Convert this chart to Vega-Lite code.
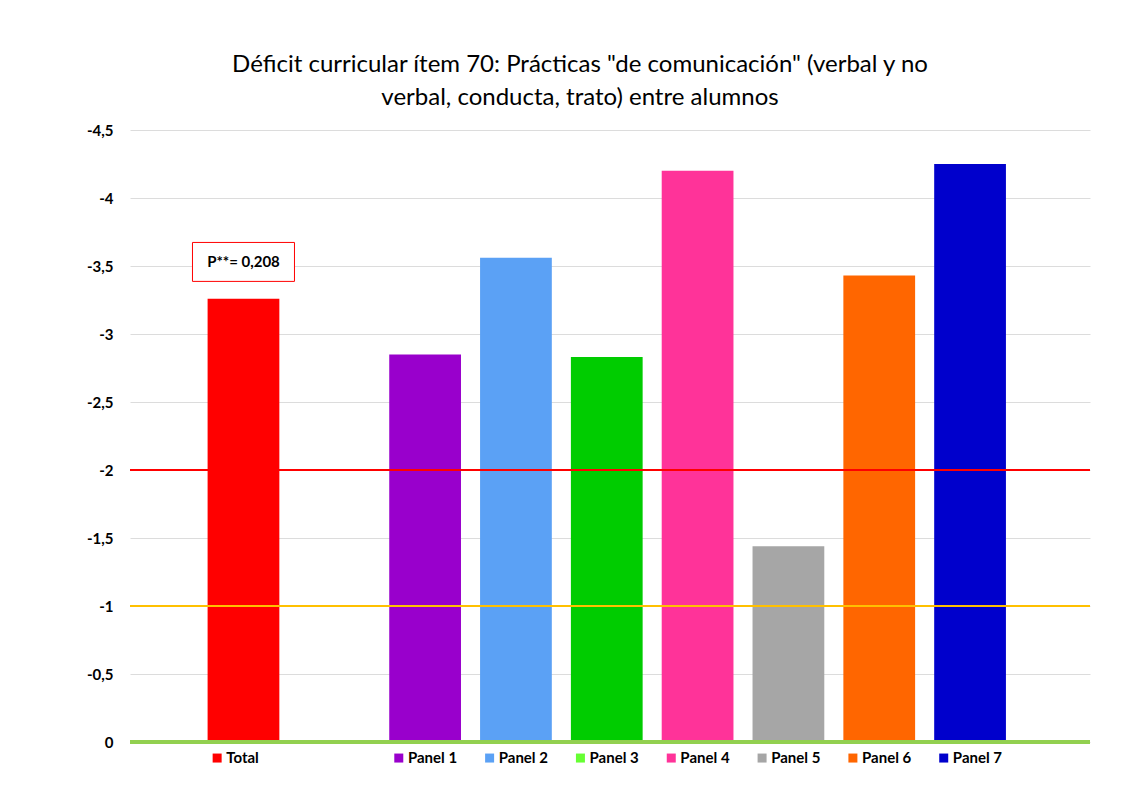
{
  "$schema": "https://vega.github.io/schema/vega-lite/v6.json",
  "width": 960,
  "height": 612,
  "autosize": {"type": "none"},
  "padding": {"left": 130, "top": 130, "right": 40, "bottom": 70},
  "background": "#ffffff",
  "config": {
    "font": "Lato",
    "view": {"stroke": null}
  },
  "title": {
    "text": ["Déficit curricular ítem 70: Prácticas \"de comunicación\" (verbal y no", "verbal, conducta, trato) entre alumnos"],
    "fontSize": 24,
    "fontWeight": "normal",
    "font": "Lato",
    "color": "#000000",
    "lineHeight": 33,
    "anchor": "middle",
    "frame": "group",
    "dx": -30,
    "offset": 13
  },
  "data": {
    "values": [
      {"cat": "Total", "v": -3.26},
      {"cat": "Panel 1", "v": -2.85},
      {"cat": "Panel 2", "v": -3.56},
      {"cat": "Panel 3", "v": -2.83},
      {"cat": "Panel 4", "v": -4.2},
      {"cat": "Panel 5", "v": -1.44},
      {"cat": "Panel 6", "v": -3.43},
      {"cat": "Panel 7", "v": -4.25}
    ]
  },
  "encoding": {
    "x": {
      "field": "cat",
      "type": "nominal",
      "sort": null,
      "scale": {
        "domain": ["Total", " ", "Panel 1", "Panel 2", "Panel 3", "Panel 4", "Panel 5", "Panel 6", "Panel 7"],
        "paddingInner": 0.21,
        "paddingOuter": 0.89,
        "align": 0.48
      },
      "axis": null
    }
  },
  "layer": [
    {
      "mark": {"type": "bar"},
      "encoding": {
        "y": {
          "field": "v",
          "type": "quantitative",
          "stack": null,
          "scale": {"domain": [-4.5, 0], "reverse": true, "nice": false, "zero": false},
          "axis": {
            "title": null,
            "values": [0, -0.5, -1, -1.5, -2, -2.5, -3, -3.5, -4, -4.5],
            "labelExpr": "replace('' + datum.value, '.', ',')",
            "labelFont": "Lato",
            "labelFontWeight": "bold",
            "labelFontSize": 15,
            "labelColor": "#000000",
            "labelPadding": 17,
            "ticks": false,
            "domain": false,
            "grid": true,
            "gridColor": "#dcdcdc",
            "gridWidth": 1
          }
        },
        "y2": {"datum": 0},
        "color": {
          "field": "cat",
          "type": "nominal",
          "scale": {
            "domain": ["Total", "Panel 1", "Panel 2", "Panel 3", "Panel 4", "Panel 5", "Panel 6", "Panel 7"],
            "range": ["#ff0000", "#9900cc", "#5ba1f5", "#00cc00", "#ff3399", "#a6a6a6", "#ff6600", "#0000cc"]
          },
          "legend": null
        }
      }
    },
    {
      "mark": {"type": "rule", "color": "#ff0000", "strokeWidth": 2},
      "encoding": {"y": {"datum": -2, "type": "quantitative"}, "x": null}
    },
    {
      "mark": {"type": "rule", "color": "#ffc000", "strokeWidth": 2},
      "encoding": {"y": {"datum": -1, "type": "quantitative"}, "x": null}
    },
    {
      "mark": {"type": "rule", "color": "#92d050", "strokeWidth": 3},
      "encoding": {"y": {"datum": 0, "type": "quantitative"}, "x": null}
    },
    {
      "mark": {"type": "point", "shape": "square", "filled": true, "size": 81, "opacity": 1},
      "encoding": {
        "x": {"field": "cat", "type": "nominal", "bandPosition": 0.133},
        "y": {"datum": 0.118, "type": "quantitative"},
        "color": {
          "condition": {"test": "datum.cat === 'Panel 3'", "value": "#66ff33"},
          "field": "cat",
          "type": "nominal",
          "legend": null
        }
      }
    },
    {
      "mark": {"type": "text", "align": "left", "baseline": "middle", "font": "Lato", "fontWeight": "bold", "fontSize": 15, "color": "#000000"},
      "encoding": {
        "x": {"field": "cat", "type": "nominal", "bandPosition": 0.26},
        "y": {"datum": 0.118, "type": "quantitative"},
        "text": {"field": "cat"}
      }
    },
    {
      "data": {"values": [{"cat": "Total", "label": "P**= 0,208"}]},
      "layer": [
        {
          "mark": {"type": "point", "shape": "M-1,-0.382L1,-0.382L1,0.382L-1,0.382Z", "size": 10404, "filled": false, "stroke": "#ff0000", "strokeWidth": 1, "fill": "#ffffff", "fillOpacity": 1, "opacity": 1},
          "encoding": {
            "x": {"field": "cat", "type": "nominal", "bandPosition": 0.5},
            "y": {"datum": -3.53, "type": "quantitative"}
          }
        },
        {
          "mark": {"type": "text", "align": "center", "baseline": "middle", "font": "Lato", "fontWeight": "bold", "fontSize": 15, "color": "#000000"},
          "encoding": {
            "x": {"field": "cat", "type": "nominal", "bandPosition": 0.5},
            "y": {"datum": -3.53, "type": "quantitative"},
            "text": {"field": "label"}
          }
        }
      ]
    }
  ]
}
